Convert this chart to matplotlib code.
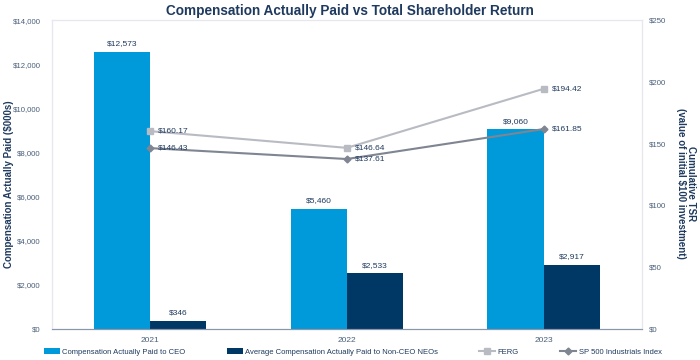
import numpy as np
import matplotlib
matplotlib.use("Agg")
import matplotlib.pyplot as plt
from matplotlib.ticker import FuncFormatter

plt.rcParams['font.family'] = ['Liberation Sans', 'DejaVu Sans']

years = ['2021', '2022', '2023']
ceo_cap = [12573, 5460, 9060]
neo_cap = [346, 2533, 2917]
ferg_tsr = [160.17, 146.64, 194.42]
sp_tsr = [146.43, 137.61, 161.85]

navy = '#1F3A5F'
tick_col = '#4A5F7A'
c_ceo = '#0099DA'
c_neo = '#003865'
c_ferg = '#B9BBC3'
c_sp = '#7F8591'

fig = plt.figure(figsize=(7, 3.6), dpi=100)
ax = fig.add_axes([0.074, 0.086, 0.843, 0.858])
ax2 = ax.twinx()

x = np.arange(len(years)) + 0.5
w = 0.285
b1 = ax.bar(x - w / 2, ceo_cap, w, color=c_ceo, label='Compensation Actually Paid to CEO', zorder=2)
b2 = ax.bar(x + w / 2, neo_cap, w, color=c_neo, label='Average Compensation Actually Paid to Non-CEO NEOs', zorder=2)
for bars, vals in ((b1, ceo_cap), (b2, neo_cap)):
    for r, v in zip(bars, vals):
        ax.text(r.get_x() + r.get_width() / 2, v + 200, '${:,}'.format(v),
                ha='center', va='bottom', fontsize=6, color=navy)

ax.set_xlim(0, 3)
ax.set_ylim(0, 14000)
ax.set_yticks(np.arange(0, 14001, 2000))
ax.yaxis.set_major_formatter(FuncFormatter(lambda v, p: '${:,.0f}'.format(v)))
ax.set_xticks(x)
ax.set_xticklabels(years)

l1, = ax2.plot(x, ferg_tsr, color=c_ferg, marker='s', markersize=5, lw=1.5, label='FERG', zorder=3)
l2, = ax2.plot(x, sp_tsr, color=c_sp, marker='D', markersize=3.5, lw=1.5, label='SP 500 Industrials Index', zorder=3)
for vals in (ferg_tsr, sp_tsr):
    for xi, v in zip(x, vals):
        ax2.text(xi + 0.04, v, '${:.2f}'.format(v), ha='left', va='center', fontsize=6, color=navy)
ax2.set_ylim(0, 250)
ax2.set_yticks(np.arange(0, 251, 50))
ax2.yaxis.set_major_formatter(FuncFormatter(lambda v, p: '${:.0f}'.format(v)))

for a in (ax, ax2):
    a.tick_params(length=0, labelsize=5.6, labelcolor=tick_col)
    for s in a.spines.values():
        s.set_color('#E6E8EE')
        s.set_linewidth(0.8)
ax.spines['bottom'].set_color('#8A96AA')
ax2.spines['bottom'].set_color('#8A96AA')
ax.tick_params(axis='y', pad=8)
ax2.tick_params(axis='y', pad=5)
ax.tick_params(axis='x', pad=6, labelsize=6)

ax.set_ylabel('Compensation Actually Paid ($000s)', fontsize=7, fontweight='bold', color=navy, va='center')
ax.yaxis.set_label_coords(-0.073, 0.47)
ax2.set_ylabel('Cumulative TSR\n(value of initial $100 investment)', fontsize=7, fontweight='bold',
               color=navy, rotation=270, linespacing=1.0, va='center')
ax2.yaxis.set_label_coords(1.075, 0.47)
fig.suptitle('Compensation Actually Paid vs Total Shareholder Return', x=0.5, y=0.99,
             fontsize=9.8, fontweight='bold', color=navy)

fig.legend(handles=[b1, b2, l1, l2], loc='center', bbox_to_anchor=(0.504, 0.022), ncol=4,
           frameon=False, fontsize=5.5, labelcolor=navy, handlelength=2.1, columnspacing=5.4,
           handletextpad=0.3)

fig.savefig('out.png', dpi=100)
